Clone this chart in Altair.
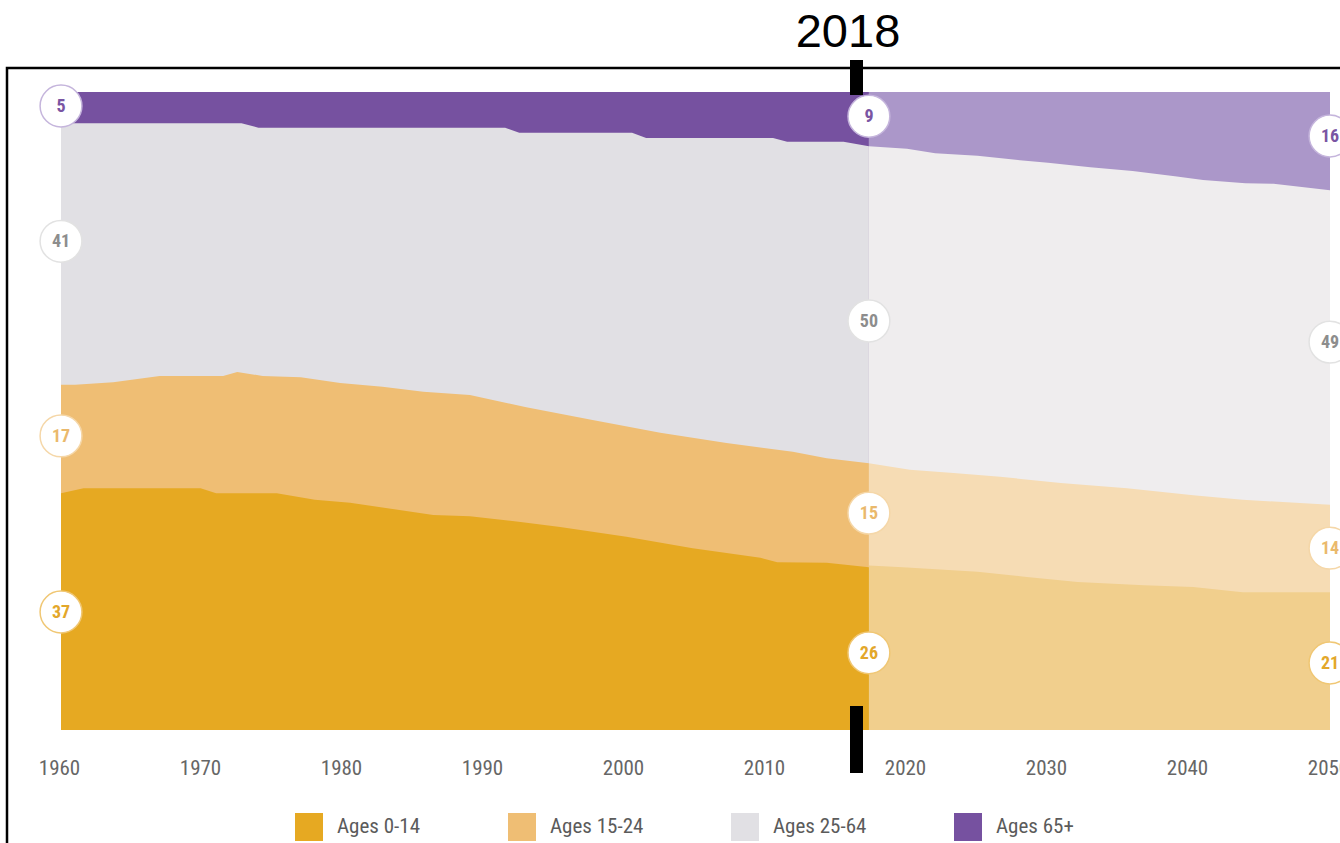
import altair as alt
import pandas as pd

# ---------------- data (percent of population) ----------------
SPLIT = 2017.3  # boundary between estimates and projections

BANDS = ["Ages 0-14", "Ages 15-24", "Ages 25-64", "Ages 65+"]

# cumulative top edge of each band (65+ always reaches 100 %)
hist_65_years = [1960, SPLIT]
hist_65_top = [100, 100]
proj_65_years = [SPLIT, 2050]
proj_65_top = [100, 100]

hist_2564_years = [1960, 1972.8, 1974, 1991.5, 1992.5, 2000.5, 2001.5, 2010.5, 2011.5, 2015.5, SPLIT]
hist_2564_top = [95.1, 95.1, 94.4, 94.4, 93.6, 93.6, 92.8, 92.8, 92.2, 92.2, 91.5]
proj_2564_years = [SPLIT, 2020, 2022, 2025, 2028, 2030, 2033, 2036, 2039, 2041, 2044, 2046, 2048, 2050]
proj_2564_top = [91.5, 91.1, 90.4, 90.0, 89.3, 88.9, 88.2, 87.6, 86.8, 86.2, 85.7, 85.6, 85.1, 84.6]

hist_1524_years = [1960, 1961, 1963.7, 1967, 1971.5, 1972.5, 1974.3, 1977, 1979.8, 1982.8, 1985.7,
                   1989, 1993, 1997.7, 2002.5, 2007.2, 2011.9, 2014.3, SPLIT]
hist_1524_top = [54.1, 54.1, 54.5, 55.5, 55.5, 56.1, 55.5, 55.3, 54.4, 53.8, 53.0,
                 52.5, 50.6, 48.6, 46.6, 45.0, 43.6, 42.6, 41.8]
proj_1524_years = [SPLIT, 2020.2, 2023.3, 2026.6, 2030.9, 2035.6, 2040.3, 2043.8, 2050]
proj_1524_top = [41.8, 40.8, 40.3, 39.7, 38.7, 37.9, 36.8, 36.1, 35.3]

hist_014_years = [1960, 1961.6, 1969.9, 1971, 1975.3, 1978, 1980.5, 1984, 1986.4, 1989, 1992.6,
                  1995.4, 2000.1, 2004.8, 2009.6, 2010.8, 2014.3, SPLIT]
hist_014_top = [37.1, 37.9, 37.9, 37.1, 37.1, 36.1, 35.6, 34.5, 33.7, 33.5, 32.6,
                31.8, 30.3, 28.5, 27.0, 26.3, 26.2, 25.5]
proj_014_years = [SPLIT, 2019.7, 2025, 2028.5, 2032.1, 2036.8, 2040.3, 2043.8, 2050]
proj_014_top = [25.8, 25.5, 24.8, 24.0, 23.2, 22.7, 22.4, 21.6, 21.6]

# circled labels: group, year, value shown, vertical position (%)
label_groups = ["Ages 65+", "Ages 25-64", "Ages 15-24", "Ages 0-14"] * 3
label_years = [1960] * 4 + [SPLIT] * 4 + [2050] * 4
label_text = ["5", "41", "17", "37", "9", "50", "15", "26", "16", "49", "14", "21"]
label_pos = [97.8, 76.6, 46.1, 18.5, 96.2, 64.1, 34.0, 12.1, 93.1, 60.8, 28.5, 10.5]

tick_years = [1960, 1970, 1980, 1990, 2000, 2010, 2020, 2030, 2040, 2050]

# ---------------- styles ----------------
hist_colors = {"Ages 0-14": "#e6a922", "Ages 15-24": "#efbe74", "Ages 25-64": "#e1e0e4", "Ages 65+": "#7651a0"}
proj_colors = {"Ages 0-14": "#f1cf8d", "Ages 15-24": "#f6dcb4", "Ages 25-64": "#efedee", "Ages 65+": "#ab97c9"}
text_colors = {"Ages 0-14": "#e3a72a", "Ages 15-24": "#eab96c", "Ages 25-64": "#8d8d8d", "Ages 65+": "#7a55a3"}
ring_colors = {"Ages 0-14": "#f0c774", "Ages 15-24": "#f5d7a8", "Ages 25-64": "#e2e2e2", "Ages 65+": "#c5b5dc"}

PAD_L, PAD_T = 61, 92
W, H = 1269, 638
FONT = "Roboto Condensed, Roboto"

series = [
    ("Ages 65+", "hist", hist_65_years, hist_65_top),
    ("Ages 65+", "proj", proj_65_years, proj_65_top),
    ("Ages 25-64", "hist", hist_2564_years, hist_2564_top),
    ("Ages 25-64", "proj", proj_2564_years, proj_2564_top),
    ("Ages 15-24", "hist", hist_1524_years, hist_1524_top),
    ("Ages 15-24", "proj", proj_1524_years, proj_1524_top),
    ("Ages 0-14", "hist", hist_014_years, hist_014_top),
    ("Ages 0-14", "proj", proj_014_years, proj_014_top),
]

keys_domain = BANDS + [b + " (projected)" for b in BANDS]
keys_range = [hist_colors[b] for b in BANDS] + [proj_colors[b] for b in BANDS]

x_scale = alt.Scale(domain=[1960, 2050], nice=False, zero=False)
y_scale = alt.Scale(domain=[0, 100], nice=False, zero=True)
x_axis = alt.Axis(values=tick_years, format="d", title=None, domain=False, ticks=False, tickSize=0,
                  grid=False, labelFlush=False, labelFont=FONT, labelFontSize=21,
                  labelColor="#666666", labelPadding=27, labelOffset=-2)
legend = alt.Legend(title=None, orient="none", legendX=295 - PAD_L, legendY=813 - PAD_T,
                    direction="horizontal", values=BANDS, symbolType="square", symbolSize=784,
                    symbolStrokeWidth=0, symbolOpacity=1, labelFont=FONT,
                    labelFontSize=21, labelColor="#5b5b5b", labelOffset=14, columnPadding=87,
                    padding=0)
color_scale = alt.Scale(domain=keys_domain, range=keys_range)

layers = []
for band, period, yrs, tops in series:
    key = band if period == "hist" else band + " (projected)"
    df = pd.DataFrame({"year": yrs, "top": tops, "key": key})
    layers.append(
        alt.Chart(df).mark_area(interpolate="linear").encode(
            x=alt.X("year:Q", scale=x_scale, axis=x_axis),
            y=alt.Y("top:Q", scale=y_scale, axis=None, stack=None),
            color=alt.Color("key:N", scale=color_scale, legend=legend),
        )
    )

lab_df = pd.DataFrame({"group": label_groups, "year": label_years, "text": label_text, "pos": label_pos})
for band in BANDS:
    sub = lab_df[lab_df.group == band]
    base = alt.Chart(sub).encode(
        x=alt.X("year:Q", scale=x_scale, axis=x_axis),
        y=alt.Y("pos:Q", scale=y_scale, axis=None),
    )
    layers.append(base.mark_point(shape="circle", filled=True, fill="white", opacity=1,
                                  stroke=ring_colors[band], strokeWidth=1.5, size=1750))
    layers.append(base.mark_text(font=FONT, fontWeight="bold", fontSize=18,
                                 color=text_colors[band], align="center", baseline="middle",
                                 dy=1).encode(text="text:N"))

one = alt.Data(values=[{"t": "2018"}])
# frame
layers.append(alt.Chart(one).mark_rect(fill="transparent", stroke="black", strokeWidth=2.5).encode(
    x=alt.value(7 - PAD_L), x2=alt.value(1500), y=alt.value(68 - PAD_T), y2=alt.value(1000)))
# black markers for 2018
layers.append(alt.Chart(one).mark_rect(color="black").encode(
    x=alt.value(850 - PAD_L), x2=alt.value(863 - PAD_L), y=alt.value(60 - PAD_T), y2=alt.value(95 - PAD_T)))
layers.append(alt.Chart(one).mark_rect(color="black").encode(
    x=alt.value(850 - PAD_L), x2=alt.value(863 - PAD_L), y=alt.value(706 - PAD_T), y2=alt.value(773 - PAD_T)))
layers.append(alt.Chart(one).mark_text(font="Liberation Sans, Arial", fontSize=47, color="black",
                                      align="center", baseline="alphabetic").encode(
    x=alt.value(848 - PAD_L), y=alt.value(47 - PAD_T), text="t:N"))

chart = alt.layer(*layers).properties(
    width=W, height=H,
    autosize=alt.AutoSizeParams(type="none"),
    padding={"left": PAD_L, "top": PAD_T, "right": 1340 - PAD_L - W, "bottom": 843 - PAD_T - H},
    background="white",
).configure_view(stroke=None)

chart.save("out.html", embed_options={"renderer": "svg", "actions": False})
